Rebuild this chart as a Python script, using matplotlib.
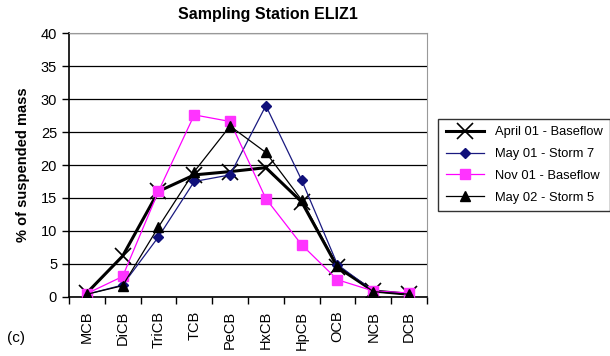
import numpy as np
import matplotlib.pyplot as plt

plt.rcParams['font.family'] = ['Liberation Sans', 'DejaVu Sans']

categories = ["MCB", "DiCB", "TriCB", "TCB", "PeCB", "HxCB", "HpCB", "OCB", "NCB", "DCB"]
april01_base = [0.6, 6.2, 16.0, 18.5, 19.0, 19.6, 14.4, 4.5, 0.9, 0.4]
may01_storm7 = [0.4, 1.8, 9.1, 17.5, 18.5, 29.0, 17.7, 4.9, 0.9, 0.5]
nov01_base = [0.5, 3.1, 16.0, 27.6, 26.6, 14.9, 7.9, 2.6, 0.9, 0.6]
may02_storm5 = [0.4, 1.7, 10.6, 19.0, 25.9, 21.9, 14.7, 4.7, 0.8, 0.4]

fig = plt.figure(figsize=(6.1, 3.56), dpi=100)
ax = fig.add_axes([0.113, 0.166, 0.587, 0.741])

x = np.arange(len(categories))
ax.plot(x, april01_base, color="black", lw=2.2, marker="x", ms=12, mew=1.2,
        label="April 01 - Baseflow", zorder=3)
ax.plot(x, may01_storm7, color="#1a1a80", lw=0.9, marker="D", ms=5,
        mfc="#10107a", mec="#10107a", label="May 01 - Storm 7", zorder=4)
ax.plot(x, nov01_base, color="#ff00ff", lw=0.9, marker="s", ms=6.5,
        mfc="#ff33ff", mec="#ff33ff", label="Nov 01 - Baseflow", zorder=4)
ax.plot(x, may02_storm5, color="black", lw=0.9, marker="^", ms=7,
        label="May 02 - Storm 5", zorder=5)

ax.set_xlim(-0.5, len(categories) - 0.5)
ax.set_ylim(0, 40)
ax.set_yticks(np.arange(0, 41, 5))
ax.yaxis.grid(True, color="black", lw=0.9)
ax.set_axisbelow(True)

ax.set_xticks(x)
ax.set_xticklabels(categories, rotation=90, fontsize=10.5)
ax.tick_params(axis="x", length=0, pad=10)
ax.set_xticks(np.arange(-0.5, len(categories), 1), minor=True)
ax.tick_params(axis="x", which="minor", length=5, direction="out", width=1)
ax.tick_params(axis="y", length=5, direction="out", labelsize=10.5, width=1)

for side in ["top", "right"]:
    ax.spines[side].set_color("#999999")
    ax.spines[side].set_linewidth(0.8)
for side in ["left", "bottom"]:
    ax.spines[side].set_linewidth(1.2)

fig.text(0.44, 0.96, "Sampling Station ELIZ1", fontsize=11.5, fontweight="bold",
         ha="center", va="center")
ax.set_ylabel("% of suspended mass", fontsize=10.5, fontweight="bold", labelpad=8)

leg = ax.legend(loc="center left", bbox_to_anchor=(1.012, 0.5), fontsize=9.3,
                frameon=True, fancybox=False, edgecolor="black", handlelength=3.0,
                borderpad=0.6, labelspacing=0.75)
leg.get_frame().set_linewidth(1.0)

fig.text(0.012, 0.04, "(c)", fontsize=11)

fig.savefig("out.png", dpi=100)
